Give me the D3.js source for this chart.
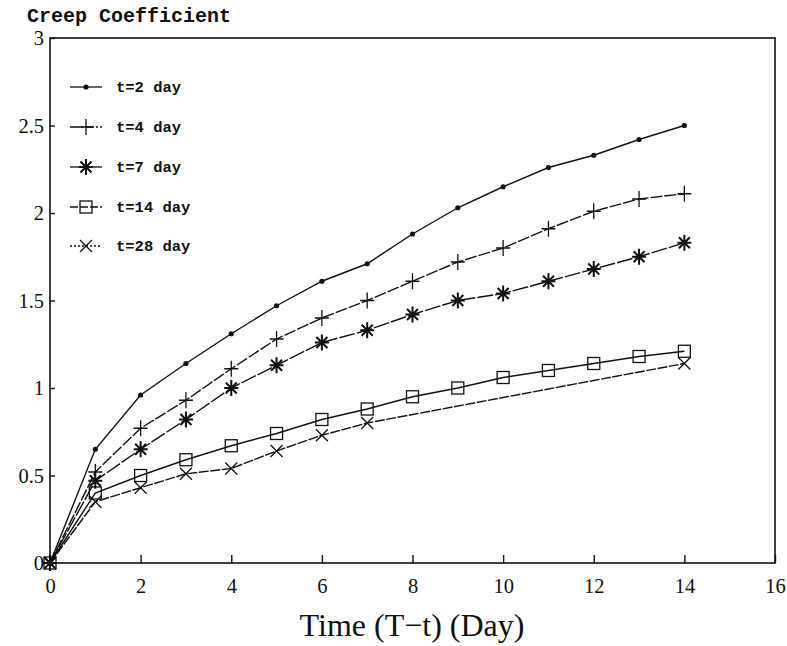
<!DOCTYPE html>
<html>
<head>
<meta charset="utf-8">
<script src="https://cdnjs.cloudflare.com/ajax/libs/d3/7.8.5/d3.min.js"></script>
<style>
  body { margin: 0; background: #fff; }
  .tick-label { font-family: "Liberation Serif", serif; font-size: 20.5px; fill: #111; }
  .mono { font-family: "Liberation Mono", "DejaVu Sans Mono", monospace; font-weight: bold; fill: #111; }
</style>
</head>
<body>
<div id="chart"></div>
<script>
// creep coefficient vs time under load, by age at loading
const days = [0, 1, 2, 3, 4, 5, 6, 7, 8, 9, 10, 11, 12, 13, 14];
const days28 = [0, 1, 2, 3, 4, 5, 6, 7, 14];
const seriesNames = ["t=2 day", "t=4 day", "t=7 day", "t=14 day", "t=28 day"];
const t2 = [0, 0.65, 0.96, 1.14, 1.31, 1.47, 1.61, 1.71, 1.88, 2.03, 2.15, 2.26, 2.33, 2.42, 2.50];
const t4 = [0, 0.52, 0.77, 0.93, 1.11, 1.28, 1.40, 1.50, 1.61, 1.72, 1.80, 1.91, 2.01, 2.08, 2.11];
const t7 = [0, 0.47, 0.65, 0.82, 1.00, 1.13, 1.26, 1.33, 1.42, 1.50, 1.54, 1.61, 1.68, 1.75, 1.83];
const t14 = [0, 0.40, 0.50, 0.59, 0.67, 0.74, 0.82, 0.88, 0.95, 1.00, 1.06, 1.10, 1.14, 1.18, 1.21];
const t28 = [0, 0.35, 0.43, 0.51, 0.54, 0.64, 0.73, 0.80, 1.14];
const xTicks = [0, 2, 4, 6, 8, 10, 12, 14, 16];
const yTicks = [0, 0.5, 1, 1.5, 2, 2.5, 3];

const W = 787, H = 646;
const mLeft = 50, mRight = 775, mTop = 38, mBottom = 563;

const svg = d3.select("#chart").append("svg")
  .attr("width", W).attr("height", H);

const x = d3.scaleLinear().domain([0, 16]).range([mLeft, mRight]);
const y = d3.scaleLinear().domain([0, 3]).range([mBottom, mTop]);

// frame
svg.append("rect")
  .attr("x", mLeft).attr("y", mTop)
  .attr("width", mRight - mLeft).attr("height", mBottom - mTop)
  .attr("fill", "none").attr("stroke", "#111").attr("stroke-width", 1.6);

// x axis ticks (pointing up into the plot)
const xAxis = d3.axisBottom(x).tickValues(xTicks).tickSize(-8).tickPadding(15)
  .tickFormat(d3.format("d"));
const gx = svg.append("g").attr("transform", `translate(0,${mBottom})`).call(xAxis);
gx.select(".domain").remove();
gx.selectAll("line").attr("stroke", "#111").attr("stroke-width", 1.4);
gx.selectAll("text").attr("class", "tick-label").attr("dy", "0.75em");

// y axis ticks (pointing right into the plot)
const yAxis = d3.axisLeft(y).tickValues(yTicks).tickSize(-5).tickPadding(6)
  .tickFormat(d => d === 0 ? "0" : String(d));
const gy = svg.append("g").attr("transform", `translate(${mLeft},0)`).call(yAxis);
gy.select(".domain").remove();
gy.selectAll("line").attr("stroke", "#111").attr("stroke-width", 1.4);
gy.selectAll("text").attr("class", "tick-label");

// titles
svg.append("text").attr("class", "mono")
  .attr("x", 27).attr("y", 22).attr("font-size", 20)
  .text("Creep Coefficient");

svg.append("text")
  .attr("x", 412).attr("y", 636)
  .attr("text-anchor", "middle")
  .attr("font-family", "Liberation Serif, serif").attr("font-size", 32)
  .attr("fill", "#111")
  .text("Time (T\u2212t) (Day)");

// marker drawing
function marker(g, type) {
  const st = { stroke: "#111", "stroke-width": 1.3, fill: "none" };
  function add(tag, attrs) {
    const e = g.append(tag);
    Object.entries(Object.assign({}, st, attrs)).forEach(([k, v]) => e.attr(k, v));
    return e;
  }
  if (type === "dot") {
    add("circle", { r: 2.6, fill: "#111", stroke: "none" });
  } else if (type === "plus") {
    add("path", { d: "M-7,0H7M0,-8V8" });
  } else if (type === "star") {
    add("path", { d: "M-7,0H7M0,-8V8M-5.5,-5.5L5.5,5.5M-5.5,5.5L5.5,-5.5", "stroke-width": 2 });
  } else if (type === "square") {
    add("rect", { x: -6, y: -6, width: 12, height: 12 });
  } else if (type === "cross") {
    add("path", { d: "M-6,-6L6,6M-6,6L6,-6" });
  }
}

const series = [
  { name: seriesNames[0], xs: days, ys: t2, m: "dot", dash: null, legDash: null },
  { name: seriesNames[1], xs: days, ys: t4, m: "plus", dash: "12,2", legDash: "9,2,2,2" },
  { name: seriesNames[2], xs: days, ys: t7, m: "star", dash: "16,2", legDash: null },
  { name: seriesNames[3], xs: days, ys: t14, m: "square", dash: null, legDash: "8,2" },
  { name: seriesNames[4], xs: days28, ys: t28, m: "cross", dash: "10,1.5", legDash: "2,2" }
];

const line = d3.line().x(d => x(d[0])).y(d => y(d[1]));

series.forEach(s => {
  const pts = s.xs.map((d, i) => [d, s.ys[i]]);
  svg.append("path").datum(pts)
    .attr("d", line)
    .attr("fill", "none").attr("stroke", "#111").attr("stroke-width", 1.4)
    .attr("stroke-dasharray", s.dash);
  pts.forEach(p => {
    const g = svg.append("g").attr("transform", `translate(${x(p[0])},${y(p[1])})`);
    marker(g, s.m);
  });
});

// legend
const legendY = [87, 127, 167, 207, 246];
series.forEach((s, i) => {
  const ly = legendY[i];
  svg.append("line")
    .attr("x1", 70).attr("x2", 102).attr("y1", ly).attr("y2", ly)
    .attr("stroke", "#111").attr("stroke-width", 1.3)
    .attr("stroke-dasharray", s.legDash);
  const g = svg.append("g").attr("transform", `translate(86,${ly})`);
  marker(g, s.m);
  svg.append("text").attr("class", "mono")
    .attr("x", 116).attr("y", ly + 5).attr("font-size", 15.5)
    .text(s.name);
});
</script>
</body>
</html>
